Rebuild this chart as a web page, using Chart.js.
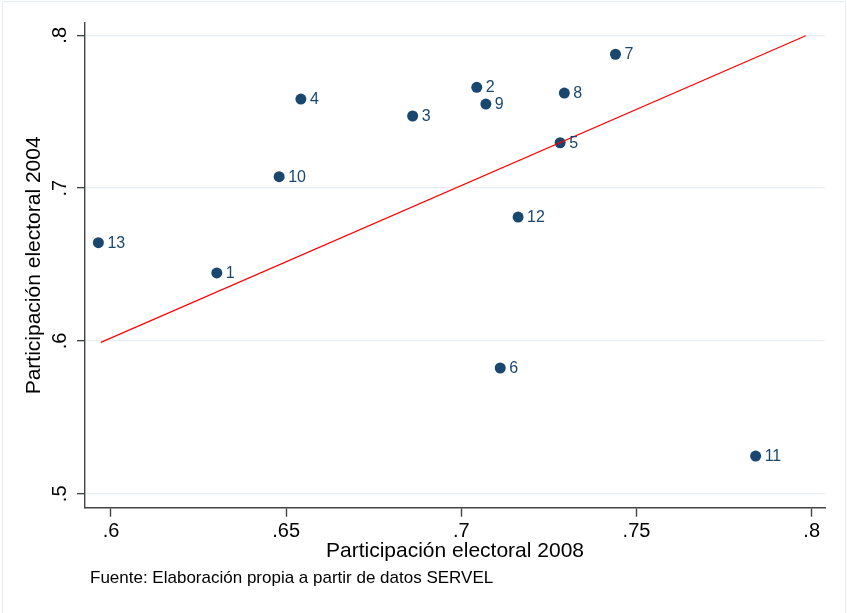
<!DOCTYPE html>
<html>
<head>
<meta charset="utf-8">
<title>Participación electoral 2008 vs 2004</title>
<script src="https://cdn.jsdelivr.net/npm/chart.js@4/dist/chart.umd.min.js"></script>
<style>
    html, body { margin: 0; padding: 0; background: #fff; }
    canvas { display: block; }
</style>
</head>
<body>
<canvas id="scatter" width="847" height="613"></canvas>
<script>
// Comunas (etiquetas de cada punto)
var labels = ['1', '2', '3', '4', '5', '6', '7', '8', '9', '10', '11', '12', '13'];
// Participación electoral 2008 (eje x)
var part2008 = [0.6302, 0.7044, 0.6861, 0.6542, 0.7282, 0.7111, 0.7440, 0.7294, 0.7070, 0.6480, 0.7840, 0.7162, 0.5964];
// Participación electoral 2004 (eje y)
var part2004 = [0.6445, 0.7660, 0.7472, 0.7583, 0.7297, 0.5823, 0.7876, 0.7622, 0.7550, 0.7075, 0.5247, 0.6811, 0.6643];
// Recta de referencia
var lineX = [0.5971, 0.7983];
var lineY = [0.5991, 0.7997];
// Marcas de los ejes
var xTicks = [0.6, 0.65, 0.7, 0.75, 0.8];
var yTicks = [0.5, 0.6, 0.7, 0.8];

var footer = 'Fuente: Elaboración propia a partir de datos SERVEL';
var fontFamily = "'Liberation Sans', Arial, Helvetica, sans-serif";
var navy = '#1a476f';

function stataLabel(value) {
    return String(+value.toFixed(2)).replace(/^0\./, '.');
}

function setTicks(list) {
    return function (scale) {
        scale.ticks = list.map(function (v) { return {value: v}; });
    };
}

var pointLabels = {
    id: 'pointLabels',
    afterDatasetsDraw: function (chart) {
        var ctx = chart.ctx;
        var meta = chart.getDatasetMeta(1);
        ctx.save();
        ctx.font = '16px ' + fontFamily;
        ctx.fillStyle = navy;
        ctx.textAlign = 'left';
        ctx.textBaseline = 'middle';
        meta.data.forEach(function (pt, i) {
            ctx.fillText(labels[i], pt.x + 9, pt.y + 0.5);
        });
        ctx.restore();
    }
};

var frame = {
    id: 'frame',
    beforeDraw: function (chart) {
        var ctx = chart.ctx;
        ctx.save();
        ctx.fillStyle = '#ffffff';
        ctx.fillRect(0, 0, chart.width, chart.height);
        ctx.strokeStyle = '#e6edf1';
        ctx.lineWidth = 1;
        ctx.strokeRect(2.5, 1.5, 843, 630);
        ctx.restore();
    },
    afterDraw: function (chart) {
        var ctx = chart.ctx;
        ctx.save();
        ctx.font = '17px ' + fontFamily;
        ctx.fillStyle = '#000';
        ctx.textAlign = 'left';
        ctx.textBaseline = 'middle';
        ctx.fillText(footer, 90, 578);
        ctx.restore();
    }
};

var lineData = lineX.map(function (x, i) { return {x: x, y: lineY[i]}; });
var pointData = part2008.map(function (x, i) { return {x: x, y: part2004[i]}; });

new Chart(document.getElementById('scatter'), {
    type: 'scatter',
    data: {
        datasets: [{
            type: 'line',
            data: lineData,
            borderColor: '#ff0000',
            borderWidth: 1.2,
            pointRadius: 0,
            fill: false
        }, {
            data: pointData,
            backgroundColor: navy,
            borderColor: navy,
            borderWidth: 0,
            pointRadius: 5.5,
            pointHoverRadius: 5.5
        }]
    },
    options: {
        responsive: false,
        animation: false,
        devicePixelRatio: 1,
        layout: {padding: {left: 0, top: 23, right: 22, bottom: 49}},
        plugins: {
            legend: {display: false},
            tooltip: {enabled: false}
        },
        scales: {
            x: {
                type: 'linear',
                min: 0.59258,
                max: 0.80380,
                afterBuildTicks: setTicks(xTicks),
                afterFit: function (scale) { scale.height = 56.3; },
                border: {display: true, color: '#444444', width: 1.4},
                grid: {drawOnChartArea: false, drawTicks: true, tickLength: 9, tickColor: '#444444', tickWidth: 1.4},
                ticks: {
                    padding: 3,
                    color: '#000',
                    font: {family: fontFamily, size: 20},
                    maxRotation: 0,
                    callback: stataLabel
                },
                title: {
                    display: true,
                    text: 'Participación electoral 2008',
                    color: '#000',
                    font: {family: fontFamily, size: 21},
                    padding: {top: 0, bottom: 0}
                }
            },
            y: {
                type: 'linear',
                min: 0.49090,
                max: 0.80805,
                afterBuildTicks: setTicks(yTicks),
                afterFit: function (scale) { scale.width = 85; },
                border: {display: true, color: '#444444', width: 1.4},
                grid: {color: '#e8eff3', lineWidth: 1.3, drawTicks: true, tickLength: 8, tickColor: '#444444', tickWidth: 1.4},
                ticks: {
                    padding: 8,
                    color: '#000',
                    font: {family: fontFamily, size: 20},
                    minRotation: 90,
                    maxRotation: 90,
                    crossAlign: 'center',
                    callback: stataLabel
                },
                title: {
                    display: true,
                    text: 'Participación electoral 2004',
                    color: '#000',
                    font: {family: fontFamily, size: 21},
                    padding: {top: 22, bottom: 0}
                }
            }
        }
    },
    plugins: [pointLabels, frame]
});
</script>
</body>
</html>
